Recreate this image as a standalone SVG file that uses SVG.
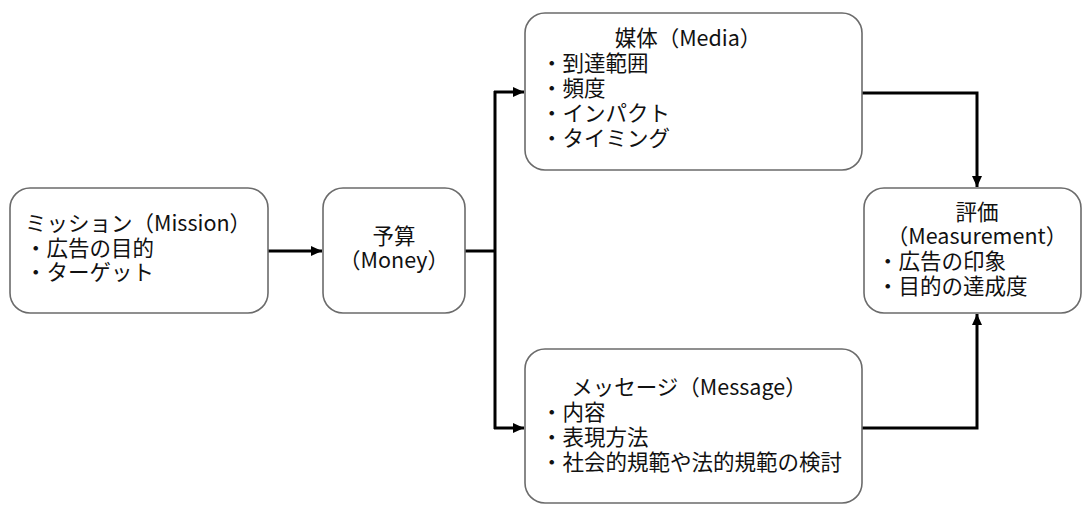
<svg xmlns="http://www.w3.org/2000/svg" width="1083" height="505" viewBox="0 0 1083 505">
<defs>
<style>
.box{fill:#fff;stroke:#6b6b6b;stroke-width:1.6}
.t{font-family:"Noto Sans CJK JP","Noto Sans",sans-serif;font-size:21.5px;fill:#111}
.c{text-anchor:middle}
.ln{fill:none;stroke:#000;stroke-width:3}
</style>
<marker id="ah" markerUnits="userSpaceOnUse" markerWidth="12" markerHeight="12" viewBox="0 0 12 12" refX="11" refY="6" orient="auto">
<path d="M0,1 L11,6 L0,11 Z" fill="#000"/>
</marker>
</defs>
<rect width="1083" height="505" fill="#fff"/>
<g id="connectors">
<line class="ln" x1="268" y1="251" x2="322" y2="251" marker-end="url(#ah)"/>
<line class="ln" x1="465" y1="251" x2="495" y2="251"/>
<line class="ln" x1="495" y1="91" x2="495" y2="429"/>
<polyline class="ln" points="494,92 524,92" marker-end="url(#ah)"/>
<polyline class="ln" points="494,428 524,428" marker-end="url(#ah)"/>
<polyline class="ln" points="862,93 977,93 977,187" marker-end="url(#ah)"/>
<polyline class="ln" points="862,428 977,428 977,314" marker-end="url(#ah)"/>
</g>
<g id="mission">
<rect class="box" x="10" y="188" width="258" height="125" rx="20"/>
<text class="t"><tspan x="25" y="231">ミッション（Mission）</tspan><tspan x="25" y="256">・広告の目的</tspan><tspan x="25" y="280">・ターゲット</tspan></text>
</g>
<g id="money">
<rect class="box" x="323" y="188" width="142" height="125" rx="20"/>
<text class="t c"><tspan x="394" y="244">予算</tspan><tspan x="394" y="268">（Money）</tspan></text>
</g>
<g id="media">
<rect class="box" x="525" y="13" width="337" height="157" rx="20"/>
<text class="t c" x="688" y="46">媒体（Media）</text>
<text class="t"><tspan x="541" y="71">・到達範囲</tspan><tspan x="541" y="96">・頻度</tspan><tspan x="541" y="121">・インパクト</tspan><tspan x="541" y="146">・タイミング</tspan></text>
</g>
<g id="message">
<rect class="box" x="525" y="349" width="337" height="154" rx="20"/>
<text class="t c" x="689" y="395">メッセージ（Message）</text>
<text class="t"><tspan x="541" y="420">・内容</tspan><tspan x="541" y="445">・表現方法</tspan><tspan x="541" y="470">・社会的規範や法的規範の検討</tspan></text>
</g>
<g id="evaluation">
<rect class="box" x="864" y="188" width="217" height="125" rx="20"/>
<text class="t c"><tspan x="977" y="220">評価</tspan><tspan x="977" y="244">（Measurement）</tspan></text>
<text class="t"><tspan x="877" y="269">・広告の印象</tspan><tspan x="877" y="294">・目的の達成度</tspan></text>
</g>
</svg>
